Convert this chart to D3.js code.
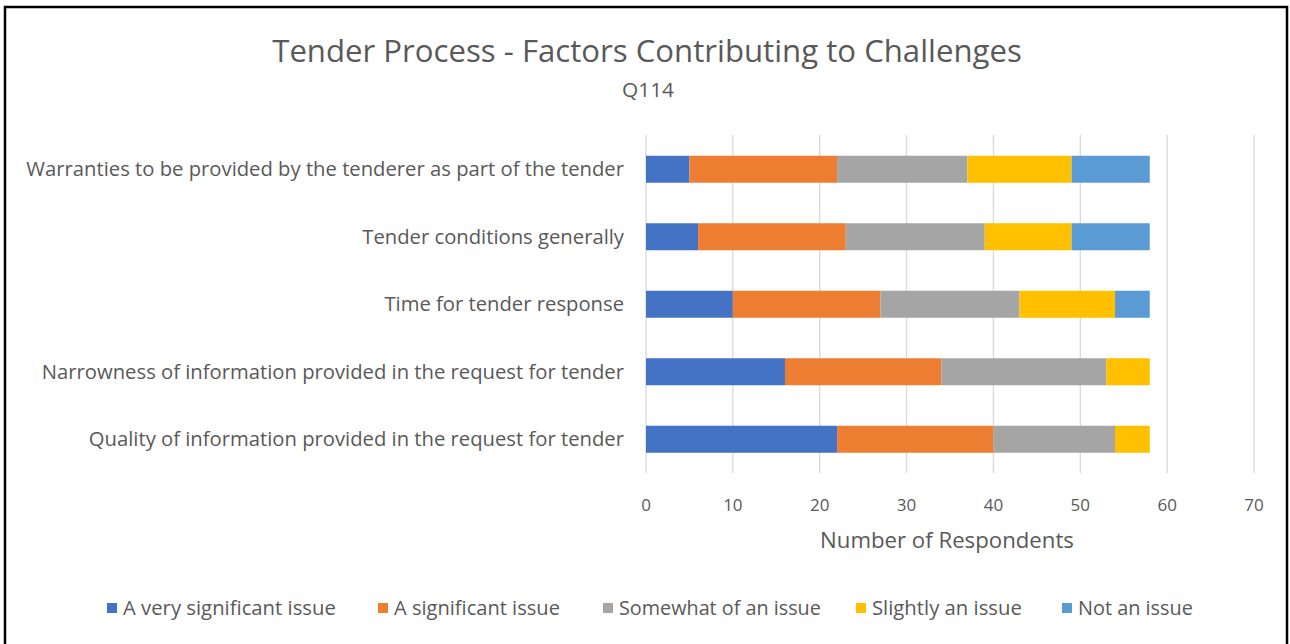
<!DOCTYPE html>
<html>
<meta charset="utf-8">
<script src="https://d3js.org/d3.v7.min.js"></script>
<head>
<style>
body { margin: 0; background: #fff; }
svg text { font-family: "Liberation Sans Narrow", "Open Sans", sans-serif; fill: #595959; }
</style>
</head>
<body>
<div id="chart"></div>
<script>

// data
var categories = [
  "Warranties to be provided by the tenderer as part of the tender",
  "Tender conditions generally",
  "Time for tender response",
  "Narrowness of information provided in the request for tender",
  "Quality of information provided in the request for tender"
]
var series = ["A very significant issue", "A significant issue", "Somewhat of an issue", "Slightly an issue", "Not an issue"]
var verySignificant = [5, 6, 10, 16, 22]
var significant     = [17, 17, 17, 18, 18]
var somewhat        = [15, 16, 16, 19, 14]
var slightly        = [12, 10, 11, 5, 4]
var notIssue        = [9, 9, 4, 0, 0]
var xTicks = [0, 10, 20, 30, 40, 50, 60, 70]
var colors = ["#4472C4", "#ED7D31", "#A5A5A5", "#FFC000", "#5B9BD5"]

var width = 1290, height = 644

var svg = d3.select("#chart").append("svg")
  .attr("width", width)
  .attr("height", height)

// outer frame
svg.append("rect")
  .attr("x", 5).attr("y", 7)
  .attr("width", 1282).attr("height", 650)
  .attr("fill", "none")
  .attr("stroke", "#000")
  .attr("stroke-width", 2.5)

// build rows for the stack
var values = [verySignificant, significant, somewhat, slightly, notIssue]
var rows = categories.map(function(c, i) {
  var r = { cat: c }
  series.forEach(function(s, j) { r[s] = values[j][i] })
  return r
})
var stacked = d3.stack().keys(series)(rows)

var x = d3.scaleLinear().domain([0, 70]).range([646, 1254])
var y = d3.scaleBand().domain(categories).range([135.5, 473]).paddingInner(0.6).paddingOuter(0.3)

// helper: fit a text to a target width
function fit(sel, target, base) {
  sel.style("font-size", base + "px")
  var w = sel.node().getComputedTextLength()
  sel.style("font-size", (base * target / w) + "px")
}

// gridlines
svg.append("g")
  .selectAll("line")
  .data(xTicks)
  .enter()
  .append("line")
    .attr("x1", function(d) { return x(d) })
    .attr("x2", function(d) { return x(d) })
    .attr("y1", 135)
    .attr("y2", 473)
    .attr("stroke", "#d9d9d9")
    .attr("stroke-width", 1.3)

// bars
svg.append("g")
  .selectAll("g")
  .data(stacked)
  .enter()
  .append("g")
    .attr("fill", function(d, i) { return colors[i] })
  .selectAll("rect")
  .data(function(d) { return d })
  .enter()
  .append("rect")
    .attr("x", function(d) { return x(d[0]) })
    .attr("y", function(d) { return y(d.data.cat) })
    .attr("width", function(d) { return x(d[1]) - x(d[0]) })
    .attr("height", y.bandwidth())

// category labels
var labelSize = null
svg.append("g")
  .selectAll("text")
  .data(categories)
  .enter()
  .append("text")
    .attr("x", 624)
    .attr("y", function(d) { return y(d) + y.bandwidth() / 2 })
    .attr("dy", "0.35em")
    .attr("text-anchor", "end")
    .text(function(d) { return d })
    .each(function(d, i) {
      if (i == 0) {
        fit(d3.select(this), 598, 18)
        labelSize = d3.select(this).style("font-size")
      } else {
        d3.select(this).style("font-size", labelSize)
      }
    })

// x tick labels
svg.append("g")
  .selectAll("text")
  .data(xTicks)
  .enter()
  .append("text")
    .attr("x", function(d) { return x(d) })
    .attr("y", 511)
    .attr("text-anchor", "middle")
    .style("font-size", "17px")
    .text(function(d) { return d })

// axis title
var axisTitle = svg.append("text")
  .attr("x", 947)
  .attr("y", 548)
  .attr("text-anchor", "middle")
  .text("Number of Respondents")
fit(axisTitle, 254, 19)

// title
var title = svg.append("text")
  .attr("x", 647)
  .attr("y", 62)
  .attr("text-anchor", "middle")
  .text("Tender Process - Factors Contributing to Challenges")
fit(title, 750, 28)

var sub = svg.append("text")
  .attr("x", 648)
  .attr("y", 97)
  .attr("text-anchor", "middle")
  .text("Q114")
fit(sub, 52, 17)

// legend
var legendX = [107, 378, 603, 856, 1062]
var legendW = [213, 166, 202, 150, 115]
var legend = svg.append("g")
  .selectAll("g")
  .data(series)
  .enter()
  .append("g")
    .attr("transform", function(d, i) { return "translate(" + legendX[i] + ",608)" })
legend.append("rect")
  .attr("x", 0).attr("y", -5)
  .attr("width", 10).attr("height", 10)
  .attr("fill", function(d, i) { return colors[i] })
legend.append("text")
  .attr("x", 16)
  .attr("dy", "0.35em")
  .text(function(d) { return d })
  .each(function(d, i) { fit(d3.select(this), legendW[i], 17) })

</script>
</body>
</html>
